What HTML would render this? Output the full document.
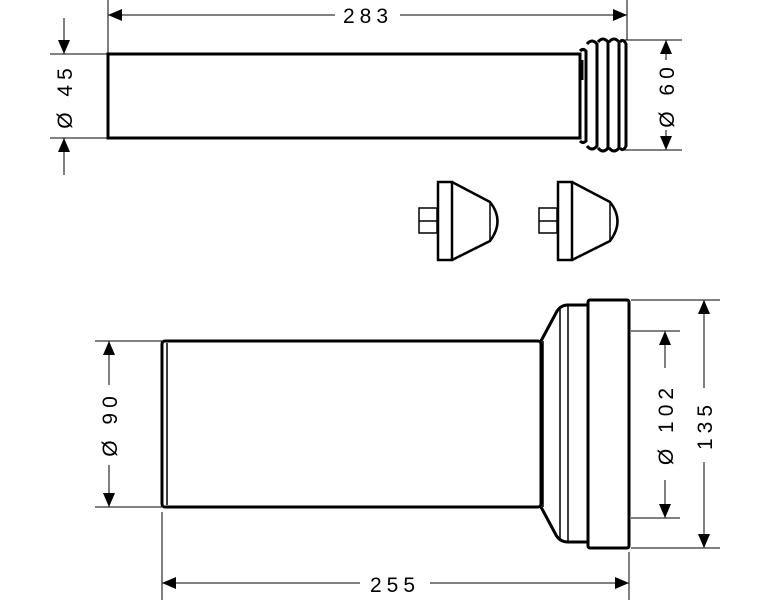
<!DOCTYPE html>
<html><head><meta charset="utf-8"><style>
html,body{margin:0;padding:0;background:#fff;width:770px;height:600px;overflow:hidden}
svg{display:block}
text{font-family:"Liberation Sans",sans-serif;font-size:21px;fill:#000;letter-spacing:5px}
</style></head><body>
<svg width="770" height="600" viewBox="0 0 770 600" xmlns="http://www.w3.org/2000/svg">
<defs>
<marker id="a" viewBox="0 0 14 12" refX="14" refY="6" markerWidth="14" markerHeight="12" markerUnits="userSpaceOnUse" orient="auto"><path d="M0,0 L14,6 L0,12 Z" fill="#000"/></marker>
</defs>
<g stroke="#000" fill="none">
<!-- TOP PIPE -->
<rect x="108" y="54" width="472" height="84" stroke-width="3"/>
<line x1="580" y1="54" x2="580" y2="138" stroke-width="1.5"/>
<g stroke-width="3">
<path d="M580,51 q3,-3 6,0 V141 q-3,3 -6,0"/>
<path d="M587,44 q5,-6 10,0 V146 q-5,6 -10,0"/>
<path d="M598,42 q5,-6 10,0 V148 q-5,6 -10,0"/>
<path d="M609,42 q5,-6 10,0 V148 q-5,6 -10,0"/>
<path d="M620,42 q3,-4 6,2 V146 q-3,6 -6,2"/>
</g>
<line x1="582" y1="60" x2="582" y2="80" stroke-width="3"/>
<!-- 283 dim -->
<g stroke-width="1">
<line x1="108" y1="0" x2="108" y2="54"/>
<line x1="627" y1="0" x2="627" y2="40"/>
<line x1="112" y1="15" x2="335" y2="15" marker-start="url(#a)" style="marker-start:none"/>
<line x1="335" y1="15" x2="108" y2="15" marker-end="url(#a)"/>
<line x1="400" y1="15" x2="627" y2="15" marker-end="url(#a)"/>
<!-- Ø45 -->
<line x1="50" y1="54" x2="108" y2="54"/>
<line x1="50" y1="138" x2="108" y2="138"/>
<line x1="64" y1="18" x2="64" y2="54" marker-end="url(#a)"/>
<line x1="64" y1="175" x2="64" y2="138" marker-end="url(#a)"/>
<!-- Ø60 -->
<line x1="623" y1="40" x2="682" y2="40"/>
<line x1="623" y1="150" x2="682" y2="150"/>
<line x1="666" y1="60" x2="666" y2="40" marker-end="url(#a)"/>
<line x1="666" y1="130" x2="666" y2="150" marker-end="url(#a)"/>
</g>
<!-- CAPS -->
<g id="cap" stroke-width="2.5">
<rect x="419" y="208" width="18" height="25" stroke-width="1.5"/>
<line x1="419" y1="221" x2="437" y2="221" stroke-width="1.5"/>
<rect x="438" y="182" width="14" height="78"/>
<path d="M452,182 L490,202 Q505,221 490,241 L452,260"/>
<line x1="490" y1="203" x2="490" y2="240" stroke-width="1.5"/>
</g>
<use href="#cap" x="120"/>
<!-- BOTTOM PIPE -->
<rect x="162" y="341" width="379" height="166" stroke-width="3" rx="3"/>
<line x1="167" y1="343" x2="167" y2="505" stroke-width="1.5"/>
<path d="M541,341 L556,313 Q560,305 568,305 L588,305 M541,507 L556,535 Q560,542 568,542 L588,542" stroke-width="3"/>
<line x1="560" y1="306" x2="560" y2="541" stroke-width="1.5"/>
<line x1="568" y1="305" x2="568" y2="542" stroke-width="1.5"/>
<line x1="543" y1="341" x2="543" y2="507" stroke-width="1.5"/>
<rect x="588" y="300" width="41" height="248" rx="2" stroke-width="3"/>
<g stroke-width="1">
<!-- Ø90 -->
<line x1="95" y1="341" x2="162" y2="341"/>
<line x1="95" y1="507" x2="162" y2="507"/>
<line x1="109" y1="385" x2="109" y2="341" marker-end="url(#a)"/>
<line x1="109" y1="465" x2="109" y2="507" marker-end="url(#a)"/>
<!-- 255 -->
<line x1="162" y1="512" x2="162" y2="600"/>
<line x1="629" y1="552" x2="629" y2="600"/>
<line x1="360" y1="583" x2="162" y2="583" marker-end="url(#a)"/>
<line x1="430" y1="583" x2="629" y2="583" marker-end="url(#a)"/>
<!-- Ø102 -->
<line x1="631" y1="331" x2="680" y2="331"/>
<line x1="631" y1="518" x2="680" y2="518"/>
<line x1="665" y1="368" x2="665" y2="331" marker-end="url(#a)"/>
<line x1="665" y1="480" x2="665" y2="518" marker-end="url(#a)"/>
<!-- 135 -->
<line x1="631" y1="300" x2="720" y2="300"/>
<line x1="631" y1="548" x2="720" y2="548"/>
<line x1="704" y1="388" x2="704" y2="300" marker-end="url(#a)"/>
<line x1="704" y1="462" x2="704" y2="548" marker-end="url(#a)"/>
</g>
</g>
<text x="368" y="23" text-anchor="middle">283</text>
<text x="395" y="592" text-anchor="middle">255</text>
<text transform="translate(72,96) rotate(-90)" text-anchor="middle">Ø 45</text>
<text transform="translate(674,95) rotate(-90)" text-anchor="middle">Ø 60</text>
<text transform="translate(117,424) rotate(-90)" text-anchor="middle">Ø 90</text>
<text transform="translate(673,424) rotate(-90)" text-anchor="middle">Ø 102</text>
<text transform="translate(712,425) rotate(-90)" text-anchor="middle">135</text>
</svg>
</body></html>
